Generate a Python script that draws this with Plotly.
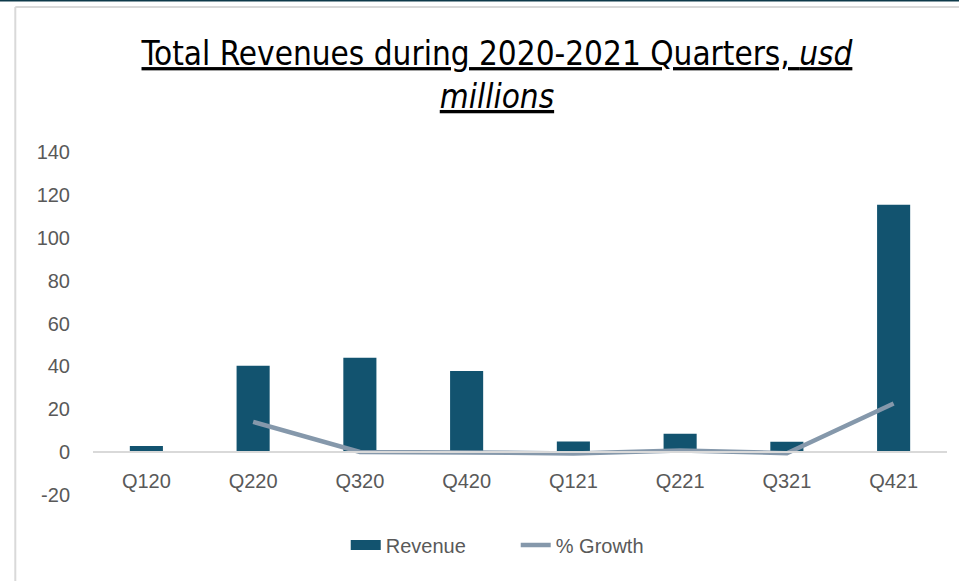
import plotly.graph_objects as go

# Quarterly revenue (usd millions) and quarter-on-quarter growth
quarters = ["Q120", "Q220", "Q320", "Q420", "Q121", "Q221", "Q321", "Q421"]
revenue = [2.8, 40.3, 44.0, 37.8, 4.9, 8.6, 4.8, 115.4]
growth = [None, 14.1, 0.1, -0.15, -0.6, 0.8, -0.5, 22.7]

y_ticks = [-20, 0, 20, 40, 60, 80, 100, 120, 140]
y_tick_text = ["-20", "0", "20", "40", "60", "80", "100", "120", "140"]
y_min, y_max = -20, 140

BAR_COLOR = "#12536F"
LINE_COLOR = "#8598AB"
TEXT_COLOR = "#595959"
AXIS_FONT = "Liberation Sans, Arial, sans-serif"
TITLE_FONT = "Liberation Sans Narrow, Arial Narrow, DejaVu Sans Condensed, Roboto Condensed, sans-serif"

fig = go.Figure()
fig.add_trace(go.Bar(
    x=quarters, y=revenue, name="Revenue", showlegend=False,
    marker=dict(color=BAR_COLOR, line=dict(width=0)),
))
# legend key for the bars, drawn as a wide solid swatch
fig.add_trace(go.Scatter(
    x=[None], y=[None], name="Revenue", mode="lines",
    line=dict(color=BAR_COLOR, width=12),
))
fig.add_trace(go.Scatter(
    x=quarters, y=growth, name="% Growth", mode="lines",
    line=dict(color=LINE_COLOR, width=4.5),
))

fig.update_layout(
    width=959, height=581,
    margin=dict(l=93, r=12, t=152, b=86),
    paper_bgcolor="white", plot_bgcolor="white",
    bargap=0.69,
    showlegend=True,
    title=dict(
        text="Total Revenues during 2020-2021 Quarters, <i>usd</i><br><i>millions</i>",
        x=0.473, xanchor="center", xref="paper",
        y=0.888, yanchor="middle", yref="container",
        font=dict(family=TITLE_FONT, size=33, color="black", lineposition="under"),
    ),
    legend=dict(
        orientation="h", x=0.495, xanchor="center", y=-0.146, yanchor="middle",
        font=dict(family=AXIS_FONT, size=20, color=TEXT_COLOR),
        traceorder="normal", bgcolor="rgba(0,0,0,0)",
        entrywidth=125, entrywidthmode="pixels",
    ),
    xaxis=dict(
        type="category", anchor="free",
        position=(0 - y_min) / (y_max - y_min),
        showline=True, linecolor="#D9D9D9", linewidth=2,
        showgrid=False, ticks="", ticklabelstandoff=11,
        tickfont=dict(family=AXIS_FONT, size=20, color=TEXT_COLOR),
    ),
    yaxis=dict(
        range=[y_min, y_max], tickvals=y_ticks, ticktext=y_tick_text,
        showgrid=False, zeroline=False, showline=False, ticks="",
        ticklabelstandoff=22,
        tickfont=dict(family=AXIS_FONT, size=20, color=TEXT_COLOR),
    ),
    shapes=[
        # dark rule along the top edge
        dict(type="line", xref="paper", yref="paper", x0=-0.2, x1=1.2,
             y0=1.443, y1=1.443, line=dict(color="#0E3A4A", width=3)),
        # light frame: top edge and left edge
        dict(type="line", xref="paper", yref="paper", x0=-0.091, x1=1.2,
             y0=1.423, y1=1.423, line=dict(color="#D9D9D9", width=2)),
        dict(type="line", xref="paper", yref="paper", x0=-0.091, x1=-0.091,
             y0=1.423, y1=-0.3, line=dict(color="#D9D9D9", width=2)),
    ],
)

fig.write_html("out.html")
